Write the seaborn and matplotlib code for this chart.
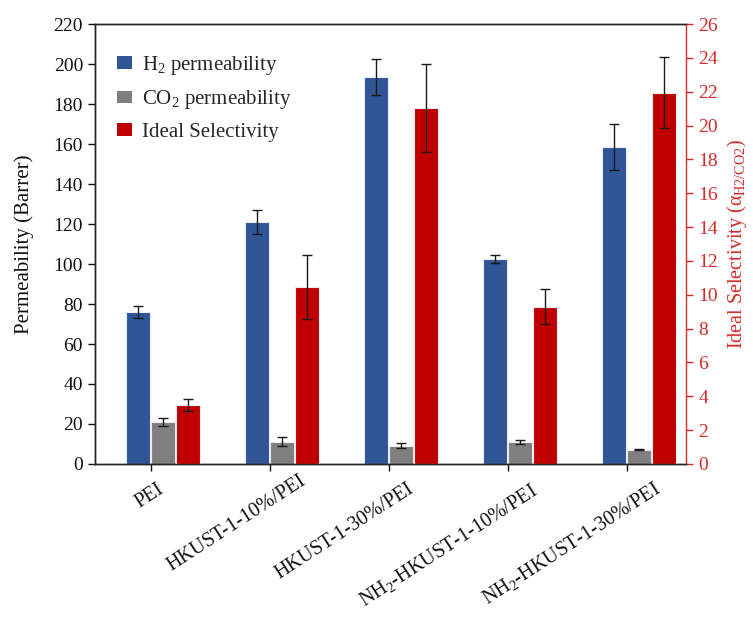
import numpy as np
import pandas as pd
import matplotlib
matplotlib.use("Agg")
import matplotlib.pyplot as plt
import matplotlib.transforms as mtransforms
from matplotlib.patches import Patch
import seaborn as sns

categories = ["PEI", "HKUST-1-10%/PEI", "HKUST-1-30%/PEI",
              "NH$_2$-HKUST-1-10%/PEI", "NH$_2$-HKUST-1-30%/PEI"]
h2_perm = [76.0, 121.0, 193.5, 102.3, 158.7]
h2_err = [3.0, 6.0, 9.0, 2.0, 11.5]
co2_perm = [21.2, 11.2, 9.2, 11.0, 7.2]
co2_err = [2.0, 2.2, 1.2, 1.2, 0.4]
selectivity = [3.48, 10.48, 21.06, 9.3, 21.94]
sel_err = [0.35, 1.9, 2.6, 1.03, 2.1]

legend_labels = ["H$_2$ permeability", "CO$_2$ permeability", "Ideal Selectivity"]
colors = ["#2f5597", "#7f7f7f", "#c00000"]
axis_red = "#d42a2a"

sns.set_theme(style="ticks")
plt.rcParams["font.family"] = ["Liberation Serif", "DejaVu Serif"]
plt.rcParams["mathtext.fontset"] = "custom"
plt.rcParams["mathtext.rm"] = "Liberation Serif"
plt.rcParams["mathtext.it"] = "Liberation Serif:italic"
plt.rcParams["mathtext.default"] = "rm"

fig = plt.figure(figsize=(7.53, 6.17), dpi=100)
ax = fig.add_axes([0.126, 0.248, 0.785, 0.713])
ax2 = ax.twinx()

idx = np.arange(len(categories))
offsets = [-0.105, 0.105, 0.315]
width = 0.2

series = [(h2_perm, h2_err, ax), (co2_perm, co2_err, ax), (selectivity, sel_err, ax2)]
for (vals, errs, target), off, col in zip(series, offsets, colors):
    df = pd.DataFrame({"x": idx + off, "y": vals})
    sns.barplot(data=df, x="x", y="y", native_scale=True, width=width,
                color=col, saturation=1, edgecolor="#e8ecf4", linewidth=0.8,
                errorbar=None, ax=target)
    target.errorbar(idx + off, vals, yerr=errs, fmt="none", ecolor="#1a1a1a",
                    elinewidth=1.0, capsize=3.5, capthick=1.0, zorder=5)

ax.set_xlim(-0.47, 4.5)
ax2.set_xlim(-0.47, 4.5)
ax.set_ylim(0, 220)
ax2.set_ylim(0, 26)
ax.set_yticks(np.arange(0, 221, 20))
ax2.set_yticks(np.arange(0, 27, 2))
ax.set_xticks(idx)
ax.set_xticklabels(categories, rotation=33, ha="right", va="top",
                   rotation_mode="anchor", fontsize=14.5)
ax.tick_params(axis="x", pad=6)
ax.tick_params(axis="y", labelsize=14, direction="out", length=5, width=1, colors="#111111")
ax.tick_params(axis="x", direction="out", length=5, width=1, colors="#111111")
ax2.tick_params(axis="y", labelsize=14, direction="out", length=5, width=1,
                colors=axis_red, pad=4)

# per-label nudges (pixels) to follow the reference's hand placement
label_shift = [(6, -1), (29, 8), (18, 0), (22, -1), (26, 1)]
for lab, (dx, dy) in zip(ax.get_xticklabels(), label_shift):
    lab.set_transform(lab.get_transform() +
                      mtransforms.ScaledTranslation(dx / 100, dy / 100, fig.dpi_scale_trans))

ax.set_xlabel("")
ax.set_ylabel("Permeability (Barrer)", fontsize=15, color="#111111", labelpad=14)
ax2.set_xlabel("")
ax2.set_ylabel("Ideal Selectivity (α$_{\\mathrm{H2/CO2}}$)", fontsize=14.5,
               color=axis_red, labelpad=5)

for a in (ax, ax2):
    for s in ("top", "bottom", "left"):
        a.spines[s].set_visible(True)
        a.spines[s].set_color("#222222")
        a.spines[s].set_linewidth(1.0)
ax2.spines["right"].set_visible(True)
ax2.spines["right"].set_color(axis_red)
ax2.spines["right"].set_linewidth(1.0)
ax.spines["right"].set_visible(False)

handles = [Patch(facecolor=c, edgecolor="none") for c in colors]
leg = ax2.legend(handles, legend_labels, loc="upper left",
                 bbox_to_anchor=(0.005, 0.975), frameon=False, fontsize=15,
                 handlelength=0.75, handleheight=0.56, handletextpad=0.45,
                 labelspacing=0.55)

fig.savefig("out.png", dpi=100)
